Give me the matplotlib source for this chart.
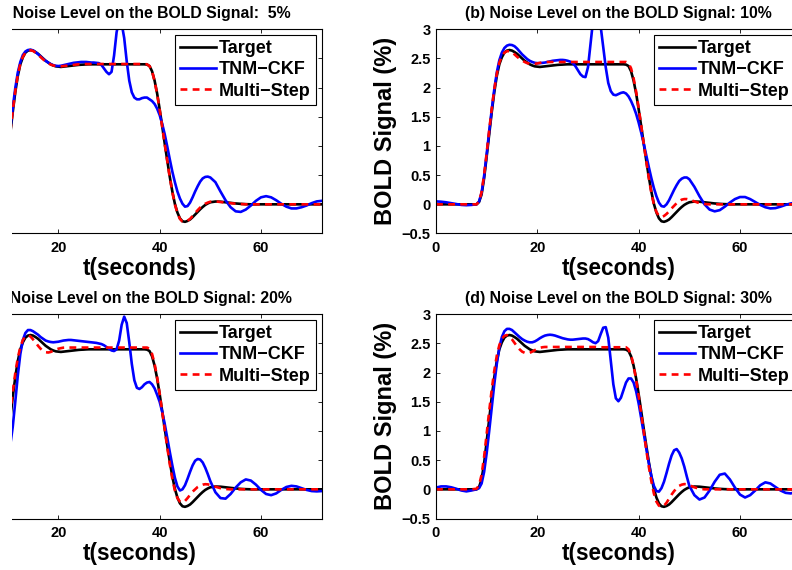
import numpy as np
import matplotlib
matplotlib.use("Agg")
import matplotlib.pyplot as plt
from matplotlib.patches import Rectangle

plt.rcParams['font.family'] = ['Liberation Sans', 'DejaVu Sans']
plt.rcParams['font.weight'] = 'bold'

# time grid (s): 1 s steps, 0.5 s steps through the transient, then 1 s again
t = np.r_[np.arange(0, 8), np.arange(8, 50, 0.5), np.arange(50, 73)]

# true BOLD response (shared by all four noise levels)
target = ([0, 0, 0, 0, 0, 0, 0, 0] +
          [0.0, 0.04, 0.17, 0.45, 0.82, 1.2, 1.58, 1.92, 2.2, 2.4, 2.52, 2.6,
           2.635, 2.645, 2.635, 2.61, 2.58, 2.54, 2.5, 2.46, 2.43, 2.4, 2.38, 2.365] +
          [2.36, 2.355, 2.36, 2.365, 2.37, 2.375, 2.38, 2.385, 2.39, 2.393, 2.395, 2.398] + [2.4] * 12 +
          [2.4] * 11 + [2.395, 2.37, 2.28, 2.12, 1.9, 1.63, 1.34, 1.04, 0.75, 0.47, 0.22, 0.01, -0.14] +
          [-0.24, -0.29, -0.3, -0.285, -0.26, -0.22, -0.175, -0.13, -0.085, -0.045, -0.01, 0.015] +
          [0.035, 0.048, 0.045, 0.035, 0.025, 0.015, 0.008, 0.003] + [0] * 15)

# TNM-CKF estimates
ckf_05 = ([0.02, 0.02, 0.01, 0.0, -0.01, -0.01, 0.0, 0.0] +
          [0.0, 0.05, 0.2, 0.5, 0.88, 1.27, 1.65, 1.99, 2.26, 2.44, 2.56, 2.62,
           2.645, 2.65, 2.64, 2.61, 2.575, 2.535, 2.495, 2.46, 2.43, 2.405, 2.385, 2.375] +
          [2.37, 2.375, 2.385, 2.395, 2.405, 2.415, 2.425, 2.43, 2.435, 2.44, 2.44, 2.44,
           2.435, 2.43, 2.43, 2.425, 2.42, 2.39, 2.33, 2.27, 2.23, 2.27, 2.55, 2.95] +
          [3.15, 3.1, 2.85, 2.45, 2.12, 1.92, 1.83, 1.8, 1.8, 1.82, 1.83, 1.83,
           1.8, 1.77, 1.72, 1.64, 1.53, 1.38, 1.2, 0.99, 0.77, 0.56, 0.38, 0.22] +
          [0.1, 0.01, -0.04, -0.03, 0.03, 0.12, 0.22, 0.31, 0.39, 0.445, 0.47, 0.475] +
          [0.46, 0.38, 0.22, 0.07, -0.05, -0.12, -0.13, -0.09, -0.02, 0.06, 0.12, 0.14,
           0.12, 0.07, 0.01, -0.04, -0.07, -0.07, -0.05, -0.02, 0.02, 0.05, 0.06])

ckf_10 = ([0.05, 0.045, 0.035, 0.02, 0.005, -0.01, -0.015, -0.01] +
          [0.0, 0.05, 0.2, 0.49, 0.86, 1.25, 1.62, 1.97, 2.26, 2.47, 2.6, 2.68,
           2.72, 2.735, 2.73, 2.71, 2.67, 2.62, 2.57, 2.53, 2.49, 2.46, 2.44, 2.425] +
          [2.42, 2.42, 2.425, 2.43, 2.44, 2.45, 2.46, 2.465, 2.47, 2.475, 2.475, 2.47,
           2.46, 2.445, 2.42, 2.37, 2.3, 2.23, 2.19, 2.18, 2.35, 2.75, 3.15, 3.3] +
          [3.25, 3.05, 2.7, 2.35, 2.08, 1.94, 1.88, 1.87, 1.89, 1.91, 1.92, 1.9,
           1.85, 1.77, 1.67, 1.55, 1.4, 1.23, 1.04, 0.84, 0.64, 0.45, 0.28, 0.14] +
          [0.03, -0.03, -0.04, 0.0, 0.07, 0.16, 0.25, 0.33, 0.4, 0.44, 0.46, 0.46] +
          [0.43, 0.3, 0.14, 0.0, -0.09, -0.12, -0.1, -0.04, 0.03, 0.09, 0.125, 0.125,
           0.09, 0.04, -0.01, -0.05, -0.07, -0.065, -0.04, -0.01, 0.015, 0.03, 0.035])

ckf_20 = ([0.02, 0.03, 0.02, 0.0, -0.02, -0.02, -0.01, 0.0] +
          [0.0, 0.02, 0.1, 0.28, 0.5, 0.75, 1.07, 1.5, 1.95, 2.32, 2.56, 2.68,
           2.73, 2.73, 2.71, 2.68, 2.65, 2.61, 2.58, 2.55, 2.535, 2.525, 2.52, 2.525] +
          [2.53, 2.54, 2.55, 2.555, 2.56, 2.56, 2.555, 2.55, 2.545, 2.54, 2.535, 2.53,
           2.525, 2.52, 2.515, 2.51, 2.5, 2.49, 2.47, 2.44, 2.41, 2.38, 2.37, 2.4] +
          [2.55, 2.82, 2.96, 2.85, 2.52, 2.15, 1.87, 1.74, 1.72, 1.75, 1.8, 1.83,
           1.84, 1.8, 1.73, 1.62, 1.5, 1.33, 1.12, 0.88, 0.64, 0.41, 0.2, 0.05] +
          [-0.02, 0.0, 0.07, 0.18, 0.3, 0.41, 0.49, 0.52, 0.51, 0.46, 0.37, 0.26] +
          [0.14, -0.05, -0.15, -0.16, -0.08, 0.03, 0.12, 0.17, 0.15, 0.08, -0.01, -0.08,
           -0.1, -0.07, -0.01, 0.04, 0.06, 0.05, 0.02, -0.01, -0.03, -0.035, -0.03])

ckf_30 = ([0.03, 0.05, 0.05, 0.035, 0.01, -0.02, -0.035, -0.02] +
          [0.0, 0.02, 0.1, 0.3, 0.62, 1.0, 1.4, 1.8, 2.15, 2.43, 2.61, 2.71,
           2.75, 2.75, 2.73, 2.69, 2.65, 2.61, 2.575, 2.55, 2.53, 2.52, 2.52, 2.535] +
          [2.56, 2.59, 2.615, 2.635, 2.645, 2.65, 2.645, 2.635, 2.62, 2.605, 2.59, 2.58,
           2.57, 2.565, 2.565, 2.57, 2.575, 2.58, 2.585, 2.585, 2.575, 2.55, 2.52, 2.505] +
          [2.54, 2.66, 2.77, 2.78, 2.6, 2.2, 1.8, 1.56, 1.51, 1.57, 1.7, 1.83,
           1.9, 1.9, 1.83, 1.68, 1.47, 1.22, 0.96, 0.7, 0.45, 0.23, 0.06, -0.03] +
          [-0.04, 0.02, 0.13, 0.28, 0.44, 0.58, 0.67, 0.69, 0.63, 0.53, 0.39, 0.22] +
          [0.06, -0.1, -0.175, -0.14, -0.02, 0.13, 0.25, 0.27, 0.17, 0.03, -0.09, -0.14,
           -0.1, -0.02, 0.07, 0.12, 0.1, 0.04, -0.02, -0.06, -0.07, -0.05, -0.02])

# Multi-Step estimates
ms_05 = ([0] * 8 +
         [0.0, 0.05, 0.19, 0.48, 0.85, 1.23, 1.6, 1.94, 2.22, 2.41, 2.53, 2.6,
          2.635, 2.64, 2.63, 2.6, 2.565, 2.525, 2.485, 2.45, 2.42, 2.395, 2.38, 2.37] +
         [2.365, 2.365, 2.37, 2.375, 2.38, 2.385, 2.39, 2.395, 2.4, 2.403] + [2.405] * 14 +
         [2.405] * 11 + [2.4, 2.37, 2.28, 2.11, 1.89, 1.62, 1.33, 1.03, 0.74, 0.46, 0.21, 0.0, -0.15] +
         [-0.25, -0.295, -0.3, -0.28, -0.25, -0.2, -0.15, -0.1, -0.055, -0.02, 0.01, 0.03] +
         [0.045, 0.05, 0.04, 0.03, 0.02, 0.01, 0.005] + [0] * 16)

ms_10 = ([0] * 8 +
         [0.0, 0.05, 0.21, 0.51, 0.88, 1.27, 1.64, 1.97, 2.24, 2.43, 2.54, 2.6,
          2.625, 2.625, 2.605, 2.57, 2.53, 2.495, 2.465, 2.44, 2.42, 2.41, 2.405, 2.408] +
         [2.415, 2.425, 2.432, 2.437] + [2.44] * 20 +
         [2.44] * 12 + [2.42, 2.33, 2.16, 1.93, 1.65, 1.35, 1.04, 0.74, 0.45, 0.2, 0.0, -0.13] +
         [-0.2, -0.215, -0.2, -0.165, -0.12, -0.07, -0.025, 0.02, 0.055, 0.08, 0.09, 0.09] +
         [0.08, 0.05, 0.02, 0.005] + [0] * 19)

ms_20 = ([0] * 8 +
         [0.0, 0.06, 0.24, 0.56, 0.93, 1.31, 1.67, 1.99, 2.25, 2.44, 2.56, 2.62,
          2.64, 2.62, 2.57, 2.52, 2.46, 2.41, 2.37, 2.35, 2.345, 2.355, 2.375, 2.395] +
         [2.41, 2.42, 2.428] + [2.43] * 21 +
         [2.43] * 12 + [2.41, 2.32, 2.15, 1.92, 1.64, 1.33, 1.02, 0.72, 0.43, 0.18, -0.02, -0.15] +
         [-0.21, -0.225, -0.2, -0.15, -0.095, -0.04, 0.0, 0.04, 0.065, 0.08, 0.088, 0.085] +
         [0.075, 0.045, 0.02, 0.005] + [0] * 19)

ms_30 = ([0] * 8 +
         [0.01, 0.07, 0.25, 0.56, 0.95, 1.34, 1.71, 2.03, 2.29, 2.47, 2.58, 2.63,
          2.645, 2.62, 2.57, 2.51, 2.45, 2.4, 2.36, 2.34, 2.335, 2.34, 2.36, 2.385] +
         [2.41, 2.425, 2.435, 2.44] + [2.44] * 20 +
         [2.435] * 12 + [2.4, 2.3, 2.12, 1.88, 1.6, 1.3, 0.99, 0.68, 0.39, 0.14, -0.07, -0.21] +
         [-0.28, -0.3, -0.28, -0.23, -0.16, -0.09, -0.03, 0.02, 0.06, 0.08, 0.09, 0.085] +
         [0.07, 0.035, 0.01] + [0] * 20)

titles = ["(a) Noise Level on the BOLD Signal:  5%",
          "(b) Noise Level on the BOLD Signal: 10%",
          "(c) Noise Level on the BOLD Signal: 20%",
          "(d) Noise Level on the BOLD Signal: 30%"]
ckf_series = [ckf_05, ckf_10, ckf_20, ckf_30]
ms_series = [ms_05, ms_10, ms_20, ms_30]
legend_labels = ["Target", "TNM\u2212CKF", "Multi\u2212Step"]
x_ticks = [0, 20, 40, 60]
x_tick_labels = ["0", "20", "40", "60"]
y_ticks = [-0.5, 0, 0.5, 1, 1.5, 2, 2.5, 3]
y_tick_labels = ["\u22120.5", "0", "0.5", "1", "1.5", "2", "2.5", "3"]

W, H = 792.0, 570.0
fig = plt.figure(figsize=(W / 100, H / 100), dpi=100)

ax_w = 364.8
ax_h = 204.2
col_left = [-43.0, 436.0]
row_top = [29.3, 314.3]

for i in range(4):
    r, c = divmod(i, 2)
    ax = fig.add_axes([col_left[c] / W, (H - row_top[r] - ax_h) / H, ax_w / W, ax_h / H])
    ax.plot(t, target, color='black', lw=1.9, label=legend_labels[0])
    ax.plot(t, ckf_series[i], color='#0000ff', lw=1.9, label=legend_labels[1])
    ax.plot(t, ms_series[i], color='#ff0000', lw=1.9, dashes=(2.6, 2.0), label=legend_labels[2])
    ax.set_xlim(0, 72)
    ax.set_ylim(-0.5, 3)
    ax.set_xticks(x_ticks)
    ax.set_yticks(y_ticks)
    ax.tick_params(direction='in', top=True, right=True, length=3, width=0.6,
                   labelsize=10.5)
    ax.tick_params(axis='x', pad=5.5)
    ax.tick_params(axis='y', pad=4)
    for s in ax.spines.values():
        s.set_linewidth(0.8)
    ax.set_title(titles[i], fontsize=11.4, fontweight='bold', pad=8)
    ax.set_xlabel("t(seconds)", fontsize=16.3, fontweight='bold', labelpad=1.5)
    if c == 1:
        ax.set_xticklabels(x_tick_labels)
        ax.set_yticklabels(y_tick_labels)
        ax.set_ylabel("BOLD Signal (%)", fontsize=17, fontweight='bold', labelpad=3)
    else:
        # the left column's y axis (and its x origin) lie beyond the figure's left edge
        ax.set_xticklabels([""] + x_tick_labels[1:])
        ax.set_yticklabels([])
    leg = ax.legend(loc='upper right', fontsize=13, frameon=True, fancybox=False,
                    edgecolor='black', framealpha=1, borderpad=0.3, labelspacing=0.24,
                    handlelength=1.95, handletextpad=0.2, borderaxespad=0.3)
    leg.get_frame().set_linewidth(0.8)
    for txt in leg.get_texts():
        txt.set_fontweight('bold')

# blank strip along the left edge
fig.add_artist(Rectangle((0, 0), 12 / W, 1, transform=fig.transFigure,
                         facecolor='white', edgecolor='none', zorder=20))

fig.savefig("out.png", dpi=100)
